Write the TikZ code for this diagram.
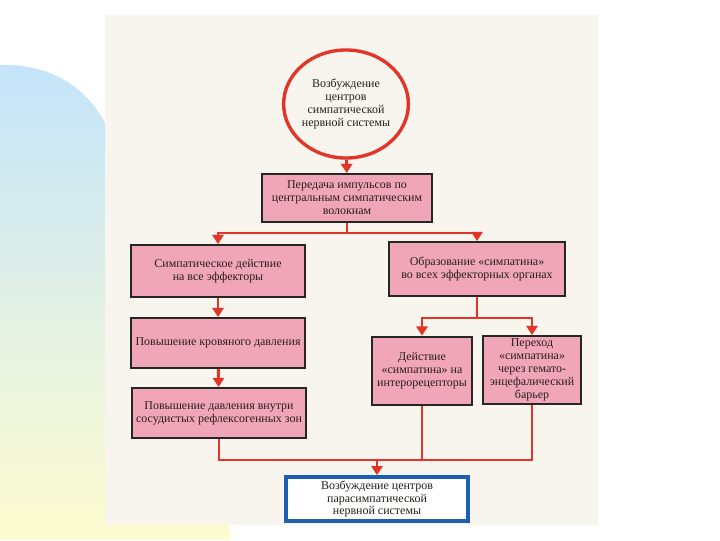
\documentclass[tikz,border=0pt]{standalone}
\usepackage{fontspec}
\setmainfont{Liberation Serif}
\usetikzlibrary{shapes.geometric,arrows.meta}
\definecolor{lineRed}{RGB}{226,52,40}
\definecolor{boxPink}{RGB}{240,166,184}
\definecolor{frameBlue}{RGB}{28,94,176}
\definecolor{scanBg}{RGB}{247,245,237}
\definecolor{decoBlue}{RGB}{196,228,250}
\definecolor{decoYellow}{RGB}{254,252,208}
\definecolor{inkDark}{RGB}{40,30,30}
\begin{document}
\begin{tikzpicture}[x=0.025cm,y=-0.025cm,
  box/.style={draw=black!85,line width=1.4pt,fill=boxPink,align=center,inner sep=1pt,
    font=\fontsize{8.5}{9.2}\selectfont,text=inkDark},
  link/.style={draw=lineRed,line width=2.1pt},
  arr/.style={link,-{Triangle[width=8pt,length=6.5pt]}}]
\useasboundingbox (0,0) rectangle (720,540);
\fill[white] (0,0) rectangle (720,540);
\shade[top color=decoBlue,bottom color=decoYellow]
  (0,540) -- (0,65) .. controls (62,63) and (106,100) .. (118,160) -- (230,160) -- (230,540) -- cycle;
\fill[scanBg] (105,15) rectangle (598,525);

\node[draw=lineRed,line width=2.4pt,ellipse,fill=scanBg,minimum width=2.85cm,minimum height=2.7cm,
  align=center,inner sep=0pt,font=\fontsize{8.5}{9.2}\selectfont,text=inkDark] (symp) at (346,104)
  {Возбуждение\\центров\\симпатической\\нервной системы};
\node[box,minimum width=4.25cm,minimum height=1.2cm] (pass) at (347,198)
  {Передача импульсов по\\центральным симпатическим\\волокнам};
\node[box,minimum width=4.35cm,minimum height=1.3cm] (effect) at (218,271)
  {Симпатическое действие\\на все эффекторы};
\node[box,minimum width=4.4cm,minimum height=1.35cm] (form) at (477,269)
  {Образование «симпатина»\\во всех эффекторных органах};
\node[box,minimum width=4.33cm,minimum height=1.25cm] (blood) at (218,343)
  {Повышение кровяного давления};
\node[box,minimum width=4.35cm,minimum height=1.25cm] (zones) at (219,413)
  {Повышение давления внутри\\сосудистых рефлексогенных зон};
\node[box,minimum width=2.48cm,minimum height=1.72cm] (intero) at (422,371)
  {Действие\\«симпатина» на\\интерорецепторы};
\node[box,minimum width=2.45cm,minimum height=1.7cm] (barrier) at (532,370)
  {Переход\\«симпатина»\\через гемато-\\энцефалический\\барьер};
\node[draw=frameBlue,line width=2.6pt,fill=white,align=center,inner sep=1pt,
  minimum width=4.55cm,minimum height=1.1cm,font=\fontsize{8.5}{9.2}\selectfont,text=inkDark]
  (para) at (377,499) {Возбуждение центров\\парасимпатической\\нервной системы};

\coordinate (split1) at (347,233);
\coordinate (split2) at (477,318);
\coordinate (join) at (377,460);

\draw[arr] (symp) -- (pass);
\draw[link] (pass) -- (split1);
\draw[arr] (split1) -| (effect);
\draw[arr] (split1) -| (form);
\draw[arr] (effect) -- (blood);
\draw[arr] (blood) -- (zones);
\draw[link] (form) -- (split2);
\draw[arr] (split2) -| (intero);
\draw[arr] (split2) -| (barrier);
\draw[link] (zones) |- (join);
\draw[link] (barrier) |- (join);
\draw[link] (intero) -- (intero |- join);
\draw[arr] (join) -- (para);
\end{tikzpicture}
\end{document}
